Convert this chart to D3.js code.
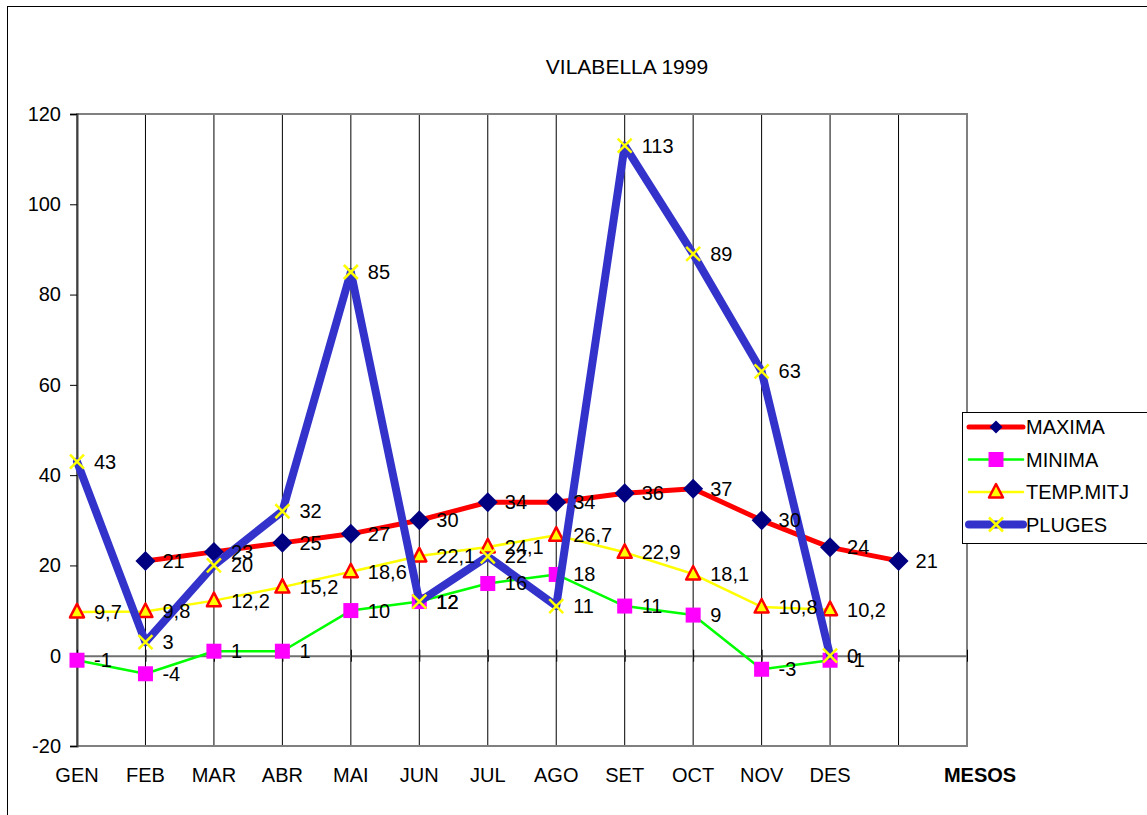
<!DOCTYPE html>
<html>
<head>
<meta charset="utf-8">
<script src="https://cdn.jsdelivr.net/npm/d3@7"></script>
<style>
  html, body { margin: 0; padding: 0; background: #fff; overflow: hidden; }
  svg { display: block; font-family: "Liberation Sans", Arial, sans-serif; }
</style>
</head>
<body>
<div id="chart"></div>
<script>
(function () {
  var months = ['GEN', 'FEB', 'MAR', 'ABR', 'MAI', 'JUN', 'JUL', 'AGO', 'SET', 'OCT', 'NOV', 'DES', ''];
  var maxima = [null, 21, 23, 25, 27, 30, 34, 34, 36, 37, 30, 24, 21];
  var minima = [-1, -4, 1, 1, 10, 12, 16, 18, 11, 9, -3, -1, null];
  var tempMitj = [9.7, 9.8, 12.2, 15.2, 18.6, 22.1, 24.1, 26.7, 22.9, 18.1, 10.8, 10.2, null];
  var pluges = [43, 3, 20, 32, 85, 12, 22, 11, 113, 89, 63, 0, null];
  var yTicks = [-20, 0, 20, 40, 60, 80, 100, 120];

  var width = 1147, height = 815;
  var left = 77, right = 967, top = 114, bottom = 746;
  var fs = 20;

  var svg = d3.select('#chart').append('svg')
    .attr('width', width)
    .attr('height', height);

  // outer chart frame
  svg.append('rect')
    .attr('x', 7.5).attr('y', 6.5)
    .attr('width', 1200).attr('height', 900)
    .attr('fill', 'none').attr('stroke', '#000').attr('stroke-width', 1);

  var x = d3.scaleLinear().domain([0, 13]).range([left, right]);
  var y = d3.scaleLinear().domain([-20, 120]).range([bottom, top]);

  // title
  svg.append('text')
    .attr('x', 627).attr('y', 74)
    .attr('text-anchor', 'middle')
    .attr('font-size', 21)
    .text('VILABELLA 1999');

  // vertical gridlines
  svg.append('g')
    .selectAll('line')
    .data(d3.range(1, 13))
    .join('line')
    .attr('x1', function (d) { return x(d); })
    .attr('x2', function (d) { return x(d); })
    .attr('y1', top).attr('y2', bottom)
    .attr('stroke', '#000').attr('stroke-width', 1);

  // plot border (gray)
  svg.append('rect')
    .attr('x', left).attr('y', top)
    .attr('width', right - left).attr('height', bottom - top)
    .attr('fill', 'none').attr('stroke', '#808080').attr('stroke-width', 2);

  // y axis
  var yAxis = svg.append('g')
    .attr('transform', 'translate(' + left + ',0)')
    .call(d3.axisLeft(y).tickValues(yTicks).tickSize(7).tickPadding(9)
      .tickFormat(function (d) { return String(d); }));
  yAxis.select('.domain').attr('stroke', '#404040').attr('stroke-width', 2);
  yAxis.selectAll('.tick line').attr('stroke', '#000');
  yAxis.selectAll('text').attr('font-size', fs).attr('fill', '#000')
    .attr('font-family', '"Liberation Sans", Arial, sans-serif');

  // x axis at zero
  var xAxis = svg.append('g')
    .attr('transform', 'translate(0,' + y(0) + ')')
    .call(d3.axisBottom(x).tickValues(d3.range(0, 14)).tickSizeInner(6).tickSizeOuter(0).tickFormat(''));
  xAxis.select('.domain').attr('stroke', '#707070').attr('stroke-width', 2);
  xAxis.selectAll('.tick line').attr('y1', -6).attr('stroke', '#000');

  // category labels
  svg.append('g')
    .selectAll('text')
    .data(months)
    .join('text')
    .attr('x', function (d, i) { return x(i); })
    .attr('y', 782)
    .attr('text-anchor', 'middle')
    .attr('font-size', fs)
    .text(function (d) { return d; });

  svg.append('text')
    .attr('x', 980).attr('y', 782)
    .attr('text-anchor', 'middle')
    .attr('font-size', fs).attr('font-weight', 'bold')
    .text('MESOS');

  var series = [
    { name: 'MAXIMA', values: maxima, color: '#ff0000', width: 5, marker: 'diamond' },
    { name: 'MINIMA', values: minima, color: '#00ff00', width: 2.5, marker: 'square' },
    { name: 'TEMP.MITJ', values: tempMitj, color: '#ffff00', width: 2.5, marker: 'triangle' },
    { name: 'PLUGES', values: pluges, color: '#3333cc', width: 8, marker: 'cross' }
  ];

  function drawMarker(g, type, cx, cy, k) {
    k = k || 1;
    if (type === 'diamond') {
      var r = 10 * k;
      g.append('path')
        .attr('d', 'M' + cx + ',' + (cy - r) + 'L' + (cx + r) + ',' + cy + 'L' + cx + ',' + (cy + r) + 'L' + (cx - r) + ',' + cy + 'Z')
        .attr('fill', '#000080');
    } else if (type === 'square') {
      g.append('rect')
        .attr('x', cx - 7.5).attr('y', cy - 7.5).attr('width', 15).attr('height', 15)
        .attr('fill', '#ff00ff');
    } else if (type === 'triangle') {
      g.append('path')
        .attr('d', 'M' + cx + ',' + (cy - 8) + 'L' + (cx + 7) + ',' + (cy + 5.5) + 'L' + (cx - 7) + ',' + (cy + 5.5) + 'Z')
        .attr('fill', '#ffff00').attr('stroke', '#ff0000').attr('stroke-width', 2.5)
        .attr('stroke-linejoin', 'round');
    } else {
      g.append('path')
        .attr('d', 'M' + (cx - 7) + ',' + (cy - 7) + 'L' + (cx + 7) + ',' + (cy + 7) + 'M' + (cx + 7) + ',' + (cy - 7) + 'L' + (cx - 7) + ',' + (cy + 7))
        .attr('stroke', '#ffff00').attr('stroke-width', 2.5);
    }
  }

  var line = d3.line()
    .defined(function (d) { return d != null; })
    .x(function (d, i) { return x(i); })
    .y(function (d) { return y(d); });

  var fmt = function (v) { return String(v).replace('.', ','); };

  series.forEach(function (s) {
    var g = svg.append('g');
    g.append('path')
      .datum(s.values)
      .attr('d', line)
      .attr('fill', 'none')
      .attr('stroke', s.color)
      .attr('stroke-width', s.width)
      .attr('stroke-linejoin', 'round')
      .attr('stroke-linecap', 'round');
    s.values.forEach(function (v, i) {
      if (v == null) return;
      drawMarker(g, s.marker, x(i), y(v));
    });
  });

  // data labels on top
  var labels = svg.append('g');
  series.forEach(function (s) {
    s.values.forEach(function (v, i) {
      if (v == null) return;
      labels.append('text')
        .attr('x', x(i) + 17)
        .attr('y', y(v) + 7)
        .attr('font-size', fs)
        .text(fmt(v));
    });
  });

  // legend
  var lg = svg.append('g').attr('transform', 'translate(962,412)');
  lg.append('rect')
    .attr('x', 0.5).attr('y', 0.5).attr('width', 200).attr('height', 131)
    .attr('fill', '#fff').attr('stroke', '#000').attr('stroke-width', 1);
  series.forEach(function (s, i) {
    var cy = 15 + i * 32.5;
    lg.append('line')
      .attr('x1', 7).attr('x2', 61).attr('y1', cy).attr('y2', cy)
      .attr('stroke', s.color).attr('stroke-width', s.width)
      .attr('stroke-linecap', 'round');
    drawMarker(lg, s.marker, 34, cy, 0.65);
    lg.append('text')
      .attr('x', 64).attr('y', cy + 7)
      .attr('font-size', fs)
      .text(s.name);
  });
})();
</script>
</body>
</html>
